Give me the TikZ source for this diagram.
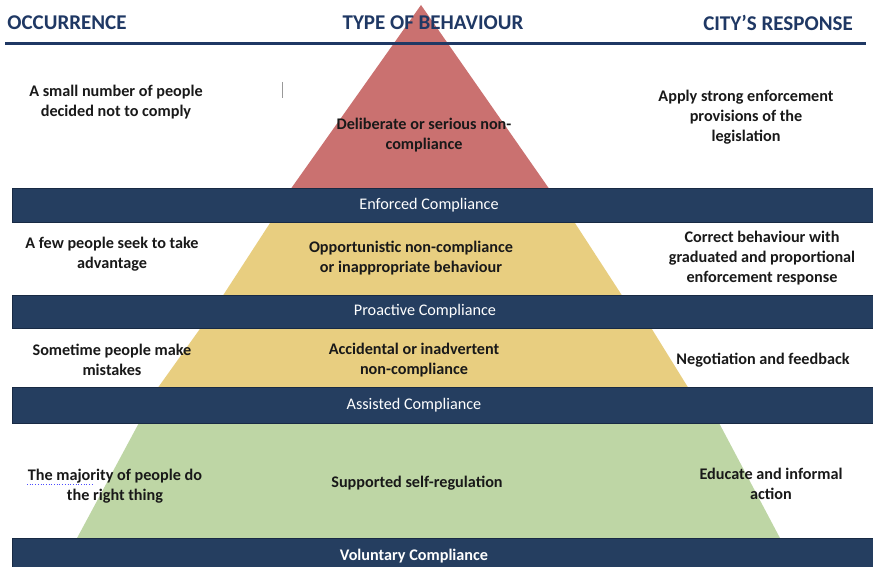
\documentclass[tikz,border=0pt]{standalone}
\usepackage{fontspec}
\setmainfont{Carlito}
\definecolor{barnavy}{RGB}{37,62,96}
\definecolor{barnavyedge}{RGB}{24,42,68}
\definecolor{headnavy}{RGB}{31,56,100}
\definecolor{pyrred}{RGB}{202,113,112}
\definecolor{pyryellow}{RGB}{232,206,128}
\definecolor{pyrgreen}{RGB}{190,214,165}
\definecolor{txt}{RGB}{25,25,25}
\begin{document}
\begin{tikzpicture}[x=1pt,y=-1pt,
  hdr/.style={font=\fontsize{21}{24}\selectfont\bfseries, text=headnavy, inner sep=0pt},
  lbl/.style={font=\fontsize{16.2}{20}\selectfont\bfseries, text=txt, align=center, inner sep=0pt},
  barbox/.style={fill=barnavy, draw=barnavyedge, line width=0.8pt},
  bartxt/.style={font=\fontsize{16.2}{18}\selectfont, text=white, inner sep=0pt},
  bartxtb/.style={font=\fontsize{16.2}{18}\selectfont\bfseries, text=white, inner sep=0pt}]
\useasboundingbox (0,0) rectangle (873,567);
\fill[white] (0,0) rectangle (873,567);
% pyramid pieces
\fill[pyrred] (421,5) -- (550,190) -- (290,190) -- cycle;
\fill[pyryellow] (272,220) -- (573,220) -- (623,297) -- (222,297) -- cycle;
\fill[pyryellow] (202,326) -- (650,326) -- (689,389) -- (157,389) -- cycle;
\fill[pyrgreen] (140,421) -- (718,421) -- (781,540) -- (76,540) -- cycle;
% header
\node[hdr] (h1) at (67,23) {OCCURRENCE};
\node[hdr] (h2) at (433,23) {TYPE OF BEHAVIOUR};
\node[hdr] (h3) at (778,23) {CITY’S RESPONSE};
\draw[headnavy, line width=3pt] (5,44) -- (866,44);
% bars
\draw[barbox] (12,188) rectangle (874,222);
\draw[barbox] (12,295) rectangle (874,328);
\draw[barbox] (12,387) rectangle (874,423);
\draw[barbox] (12,538) rectangle (874,570);
\node[bartxt] (b1) at (429,205) {Enforced Compliance};
\node[bartxt] (b2) at (425,311.5) {Proactive Compliance};
\node[bartxt] (b3) at (414,405) {Assisted Compliance};
\node[bartxtb] (b4) at (414,556) {Voluntary Compliance};
% row 1
\node[lbl] (o1) at (116,102) {A small number of people\\decided not to comply};
\draw[gray!80, line width=0.8pt] (282,82) -- (282,98);
\node[lbl] (t1) at (424,135.5) {Deliberate or serious non-\\compliance};
\node[lbl] (r1) at (746,117) {Apply strong enforcement\\provisions of the\\legislation};
% row 2
\node[lbl] (o2) at (112,254) {A few people seek to take\\advantage};
\node[lbl] (t2) at (411,258) {Opportunistic non-compliance\\or inappropriate behaviour};
\node[lbl] (r2) at (762,258) {Correct behaviour with\\graduated and proportional\\enforcement response};
% row 3
\node[lbl] (o3) at (112,360) {Sometime people make\\mistakes};
\node[lbl] (t3) at (414,360) {Accidental or inadvertent\\non-compliance};
\node[lbl] (r3) at (763,360) {Negotiation and feedback};
% row 4
\node[lbl] (o4) at (115,486) {The majority of people do\\the right thing};
\draw[blue!70, line width=0.7pt, dotted] (27,484) -- (92,484);
\node[lbl] (t4) at (417,483) {Supported self-regulation};
\node[lbl] (r4) at (771,484) {Educate and informal\\action};
\end{tikzpicture}
\end{document}
